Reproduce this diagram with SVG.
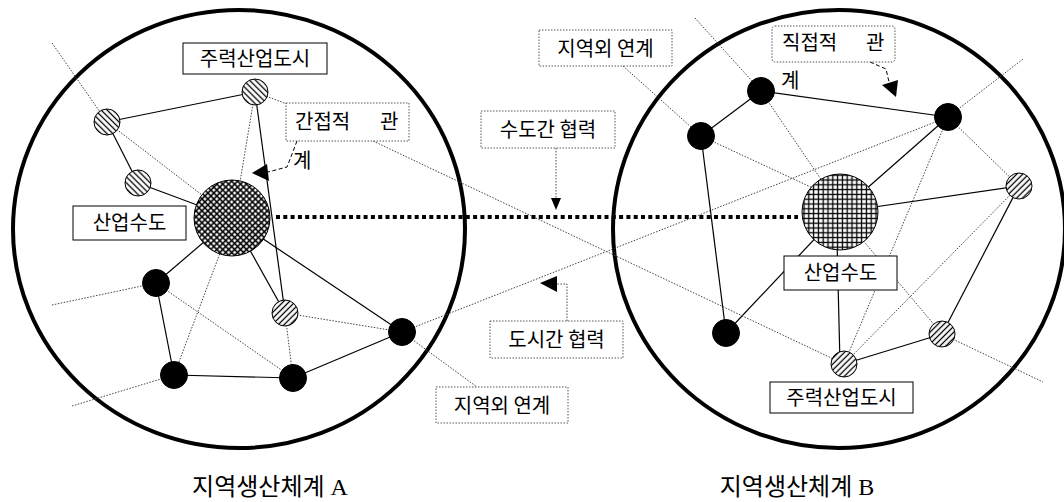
<svg xmlns="http://www.w3.org/2000/svg" width="1064" height="502" viewBox="0 0 1064 502">
<style>
.outer{fill:none;stroke:#000;stroke-width:4}
.solid{fill:none;stroke:#000;stroke-width:1.2}
.dot{fill:none;stroke:#444;stroke-width:1;stroke-dasharray:1.5 1.5}
.dash{fill:none;stroke:#000;stroke-width:1;stroke-dasharray:4 2.5}
.thick{fill:none;stroke:#000;stroke-width:4;stroke-dasharray:4 3.3}
.box{fill:#fff;stroke:#000;stroke-width:1}
.dbox{fill:#fff;stroke:#555;stroke-width:1;stroke-dasharray:1.5 1.5}
.lbl{font-family:"Noto Sans CJK KR","Noto Sans",sans-serif;font-size:20px;fill:#000}
.title{font-family:"Liberation Serif","Noto Sans CJK KR",serif;font-size:24px;fill:#000}
.black{fill:#000;stroke:#000;stroke-width:1}
.hb{fill:url(#hatchBack);stroke:#000;stroke-width:1}
.hf{fill:url(#hatchFwd);stroke:#000;stroke-width:1}
.arrow{fill:#000}
</style>
<defs>
<pattern id="hatchBack" patternUnits="userSpaceOnUse" width="4.2" height="4.2" patternTransform="rotate(45)">
<rect width="4.2" height="4.2" fill="#fff"/>
<line x1="0" y1="2.1" x2="4.2" y2="2.1" stroke="#000" stroke-width="1.3"/>
</pattern>
<pattern id="hatchFwd" patternUnits="userSpaceOnUse" width="4.2" height="4.2" patternTransform="rotate(-45)">
<rect width="4.2" height="4.2" fill="#fff"/>
<line x1="0" y1="2.1" x2="4.2" y2="2.1" stroke="#000" stroke-width="1.3"/>
</pattern>
<pattern id="diagGrid" patternUnits="userSpaceOnUse" width="4.2" height="4.2" patternTransform="rotate(45)">
<rect width="4.2" height="4.2" fill="#fff"/>
<line x1="0" y1="2.1" x2="4.2" y2="2.1" stroke="#000" stroke-width="1.6"/>
<line x1="2.1" y1="0" x2="2.1" y2="4.2" stroke="#000" stroke-width="1.6"/>
</pattern>
<pattern id="sqGrid" patternUnits="userSpaceOnUse" width="4.8" height="4.8">
<rect width="4.8" height="4.8" fill="#fff"/>
<line x1="0" y1="2.4" x2="4.8" y2="2.4" stroke="#000" stroke-width="1.3"/>
<line x1="2.4" y1="0" x2="2.4" y2="4.8" stroke="#000" stroke-width="1.3"/>
</pattern>
</defs>
<rect width="1064" height="502" fill="#fff"/>

<g id="region-A-boundary"><ellipse class="outer" cx="239" cy="229" rx="226" ry="219"/></g>
<g id="region-B-boundary"><ellipse class="outer" cx="839" cy="229" rx="226" ry="219"/></g>

<g id="connectors">
<!-- left solid -->
<line class="solid" x1="107" y1="122" x2="255" y2="92"/>
<line class="solid" x1="107" y1="122" x2="138" y2="183"/>
<line class="solid" x1="138" y1="183" x2="232" y2="218"/>
<line class="solid" x1="255" y1="92" x2="285" y2="313"/>
<line class="solid" x1="232" y1="218" x2="156" y2="283"/>
<line class="solid" x1="232" y1="218" x2="285" y2="313"/>
<line class="solid" x1="232" y1="218" x2="402" y2="332"/>
<line class="solid" x1="156" y1="283" x2="174" y2="375"/>
<line class="solid" x1="174" y1="375" x2="293" y2="378"/>
<line class="solid" x1="293" y1="378" x2="402" y2="332"/>
<!-- right solid -->
<line class="solid" x1="701" y1="136" x2="761" y2="91"/>
<line class="solid" x1="761" y1="91" x2="948" y2="117"/>
<line class="solid" x1="701" y1="136" x2="726" y2="333"/>
<line class="solid" x1="726" y1="333" x2="840" y2="212"/>
<line class="solid" x1="840" y1="212" x2="948" y2="117"/>
<line class="solid" x1="840" y1="212" x2="1019" y2="186"/>
<line class="solid" x1="1019" y1="186" x2="942" y2="334"/>
<line class="solid" x1="942" y1="334" x2="844" y2="364"/>
<line class="solid" x1="837" y1="240" x2="840" y2="364"/>
<!-- left dotted -->
<line class="dot" x1="52" y1="43" x2="107" y2="122"/>
<line class="dot" x1="107" y1="122" x2="232" y2="218"/>
<line class="dot" x1="255" y1="92" x2="237" y2="200"/>
<line class="dot" x1="255" y1="92" x2="287" y2="104"/>
<line class="dot" x1="156" y1="283" x2="293" y2="378"/>
<line class="dot" x1="225" y1="240" x2="174" y2="375"/>
<line class="dot" x1="285" y1="313" x2="293" y2="378"/>
<line class="dot" x1="285" y1="313" x2="402" y2="332"/>
<line class="dot" x1="52" y1="305" x2="156" y2="283"/>
<line class="dot" x1="72" y1="406" x2="174" y2="375"/>
<line class="dot" x1="402" y1="332" x2="477" y2="387"/>
<line class="dot" x1="402" y1="332" x2="948" y2="117"/>
<line class="dot" x1="373" y1="141" x2="844" y2="364"/>
<!-- right dotted -->
<line class="dot" x1="623" y1="66" x2="701" y2="136"/>
<line class="dot" x1="695" y1="18" x2="761" y2="91"/>
<line class="dot" x1="701" y1="136" x2="830" y2="196"/>
<line class="dot" x1="761" y1="91" x2="835" y2="200"/>
<line class="dot" x1="948" y1="117" x2="1019" y2="186"/>
<line class="dot" x1="948" y1="117" x2="844" y2="364"/>
<line class="dot" x1="1019" y1="186" x2="844" y2="364"/>
<line class="dot" x1="850" y1="225" x2="942" y2="334"/>
<line class="dot" x1="942" y1="334" x2="1043" y2="382"/>
<line class="dot" x1="948" y1="117" x2="1023" y2="59"/>
<!-- capital link -->
<line class="thick" x1="276" y1="217" x2="798" y2="217"/>
<!-- annotation arrows -->
<polyline class="dash" points="297,141 287,167 268,172"/>
<polygon class="arrow" points="252,173 267,164 269,181"/>
<line class="dot" x1="556" y1="148" x2="556" y2="199"/>
<polygon class="arrow" points="551,198 561,198 556,210"/>
<polyline class="dot" points="567,321 567,284 556,284"/>
<polygon class="arrow" points="540,283 557,276 557,292"/>
<polyline class="dash" points="870,62 886,69 889,82"/>
<polygon class="arrow" points="882,85 898,80 896,97"/>
</g>

<g id="node-A-capital"><circle cx="232" cy="218" r="38" fill="url(#diagGrid)" stroke="#000" stroke-width="1"/></g>
<g id="node-A-ind1"><circle class="hb" cx="255" cy="92" r="13"/></g>
<g id="node-A-ind2"><circle class="hb" cx="107" cy="122" r="13"/></g>
<g id="node-A-ind3"><circle class="hb" cx="138" cy="183" r="13"/></g>
<g id="node-A-ind4"><circle class="hf" cx="285" cy="313" r="13"/></g>
<g id="node-A-city1"><circle class="black" cx="156" cy="283" r="13.5"/></g>
<g id="node-A-city2"><circle class="black" cx="174" cy="375" r="13.5"/></g>
<g id="node-A-city3"><circle class="black" cx="293" cy="378" r="13.5"/></g>
<g id="node-A-city4"><circle class="black" cx="402" cy="332" r="13.5"/></g>

<g id="node-B-capital"><circle cx="840" cy="212" r="38" fill="url(#sqGrid)" stroke="#000" stroke-width="1"/></g>
<g id="node-B-city1"><circle class="black" cx="701" cy="136" r="13.5"/></g>
<g id="node-B-city2"><circle class="black" cx="761" cy="91" r="13.5"/></g>
<g id="node-B-city3"><circle class="black" cx="948" cy="117" r="13.5"/></g>
<g id="node-B-city4"><circle class="black" cx="726" cy="333" r="13.5"/></g>
<g id="node-B-ind1"><circle class="hf" cx="1019" cy="186" r="13"/></g>
<g id="node-B-ind2"><circle class="hf" cx="942" cy="334" r="13"/></g>
<g id="node-B-ind3"><circle class="hf" cx="844" cy="364" r="13"/></g>

<g id="label-A-ind"><rect class="box" x="183" y="43" width="144" height="31"/><text class="lbl" x="255" y="66" text-anchor="middle">주력산업도시</text></g>
<g id="label-A-capital"><rect class="box" x="73" y="206" width="113" height="34"/><text class="lbl" x="129.5" y="230" text-anchor="middle">산업수도</text></g>
<g id="label-indirect"><rect class="dbox" x="286" y="103" width="123" height="38"/><text class="lbl" x="295" y="129">간접적<tspan x="380">관</tspan></text><text class="lbl" x="293" y="168">계</text></g>
<g id="label-capital-coop"><rect class="dbox" x="481" y="111" width="134" height="37"/><text class="lbl" x="548" y="137" text-anchor="middle">수도간 협력</text></g>
<g id="label-ext-top"><rect class="dbox" x="539" y="30" width="133" height="36"/><text class="lbl" x="605.5" y="56" text-anchor="middle">지역외 연계</text></g>
<g id="label-direct"><rect class="dbox" x="772" y="26" width="123" height="36" rx="3"/><text class="lbl" x="782" y="50">직접적<tspan x="866">관</tspan></text><text class="lbl" x="781" y="88">계</text></g>
<g id="label-B-capital"><rect class="box" x="784" y="256" width="113" height="34"/><text class="lbl" x="840.5" y="280" text-anchor="middle">산업수도</text></g>
<g id="label-B-ind"><rect class="box" x="770" y="382" width="143" height="31"/><text class="lbl" x="841.5" y="405" text-anchor="middle">주력산업도시</text></g>
<g id="label-city-coop"><rect class="dbox" x="490" y="321" width="133" height="37"/><text class="lbl" x="556.5" y="347" text-anchor="middle">도시간 협력</text></g>
<g id="label-ext-bottom"><rect class="dbox" x="436" y="387" width="132" height="36"/><text class="lbl" x="502" y="413" text-anchor="middle">지역외 연계</text></g>

<g id="title-A"><text class="title" x="270" y="495" text-anchor="middle">지역생산체계 A</text></g>
<g id="title-B"><text class="title" x="797" y="495" text-anchor="middle">지역생산체계 B</text></g>
</svg>
